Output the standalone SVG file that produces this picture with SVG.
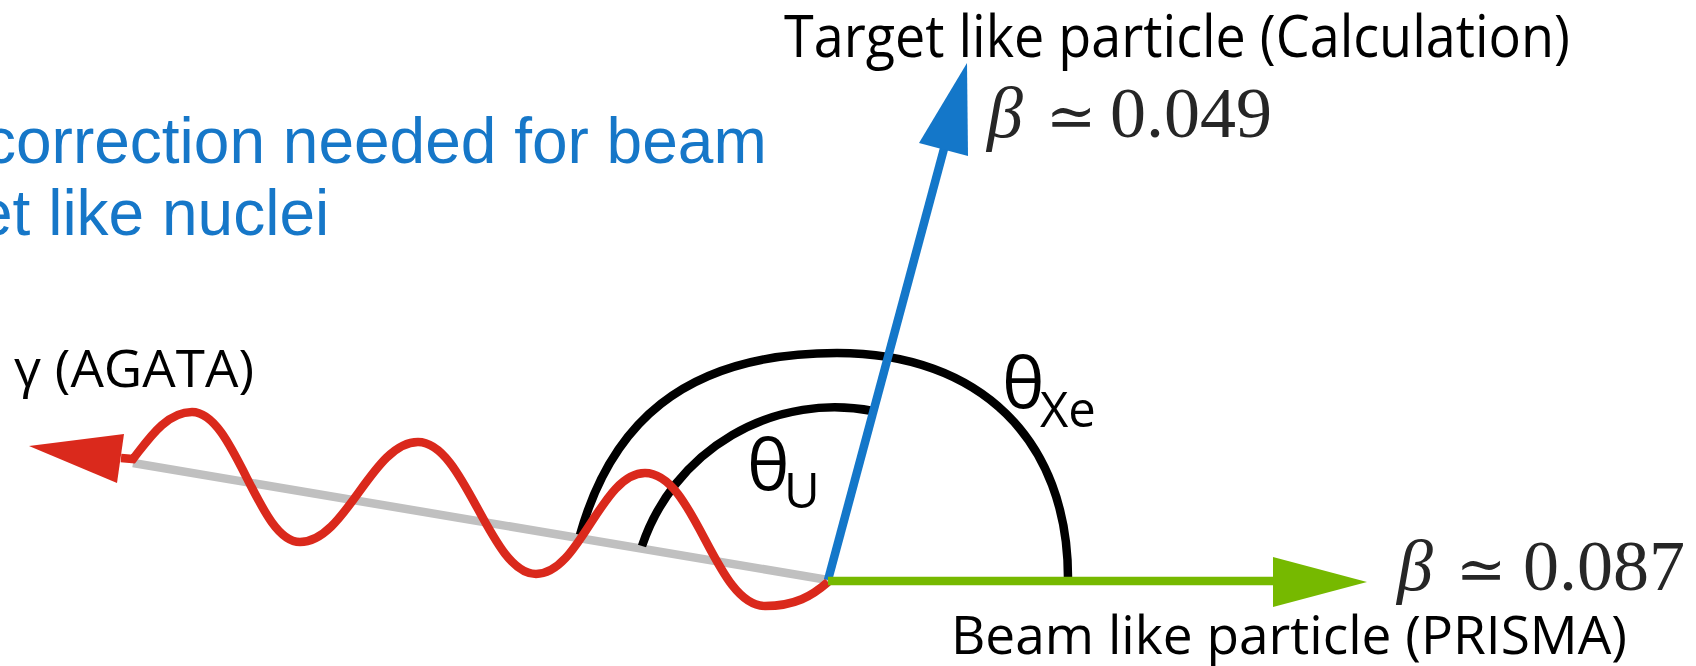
<svg xmlns="http://www.w3.org/2000/svg" width="1696" height="666" viewBox="0 0 1696 666">
<style>
.lbl{font-family:"Open Sans","DejaVu Sans",sans-serif;fill:#000}
.note{font-family:"Liberation Sans",Arial,sans-serif;fill:#1677c8;font-size:64px}
.beta{font-family:"Liberation Serif","DejaVu Serif",serif;fill:#262626;font-size:72px}
.sim{font-family:"DejaVu Serif",serif;font-size:60px}
.ln{fill:none;stroke-width:8.5}
</style>
<rect width="1696" height="666" fill="#fff"/>
<g id="note">
<text class="note" x="-16" y="163">correction needed for beam</text>
<text class="note" x="-23" y="235">et like nuclei</text>
</g>
<g id="connectors">
<line class="ln" x1="133" y1="463" x2="828" y2="580" stroke="#c0c0c0" stroke-width="9"/>
<path id="arc-xe" class="ln" stroke="#000" d="M 580 535 C 610 428 680 353 837 353 C 980 353 1068 440 1068 578"/>
<path id="arc-u" class="ln" stroke="#000" d="M 642 546 A 203 203 0 0 1 873 411"/>
<g id="gamma-ray">
<path class="ln" stroke="#da291c" stroke-width="9" d="M 121 458 L 133 459 C 148 440 166 412 192 412 C 235 412 258 542 300 542 C 346 542 372 442 418 442 C 465 442 490 574 536 574 C 580 574 601 473 645 473 C 695 473 715 606 765 606 C 795 606 812 596 828 582"/>
<polygon points="29,446 124,434 117,483" fill="#da291c"/>
</g>
<g id="target-arrow">
<line class="ln" x1="828" y1="580" x2="945" y2="145" stroke="#1477c9"/>
<polygon points="967,63 968,156 919,143" fill="#1477c9"/>
</g>
<g id="beam-arrow">
<line class="ln" x1="828" y1="581" x2="1276" y2="581" stroke="#76b900"/>
<polygon points="1273,557 1367,582 1273,607" fill="#76b900"/>
</g>
</g>
<g id="label-target">
<text class="lbl" x="784" y="57" font-size="59" textLength="786" lengthAdjust="spacingAndGlyphs">Target like particle (Calculation)</text>
<text class="beta" y="137"><tspan x="987" font-style="italic">β</tspan><tspan class="sim" x="1046">≃</tspan><tspan x="1110">0.049</tspan></text>
</g>
<g id="label-beam">
<text class="lbl" x="951" y="654" font-size="53" textLength="676" lengthAdjust="spacingAndGlyphs">Beam like particle (PRISMA)</text>
<text class="beta" y="590"><tspan x="1397" font-style="italic">β</tspan><tspan class="sim" x="1456">≃</tspan><tspan x="1523">0.087</tspan></text>
</g>
<g id="label-gamma">
<text class="lbl" x="14" y="387" font-size="51" textLength="240" lengthAdjust="spacingAndGlyphs">γ (AGATA)</text>
</g>
<g id="label-theta-u">
<text class="lbl" x="747" y="490" font-size="72">θ<tspan x="784" y="508" font-size="49">U</tspan></text>
</g>
<g id="label-theta-xe">
<text class="lbl" x="1002" y="408" font-size="72">θ<tspan x="1040" y="427" font-size="49">Xe</tspan></text>
</g>
</svg>
